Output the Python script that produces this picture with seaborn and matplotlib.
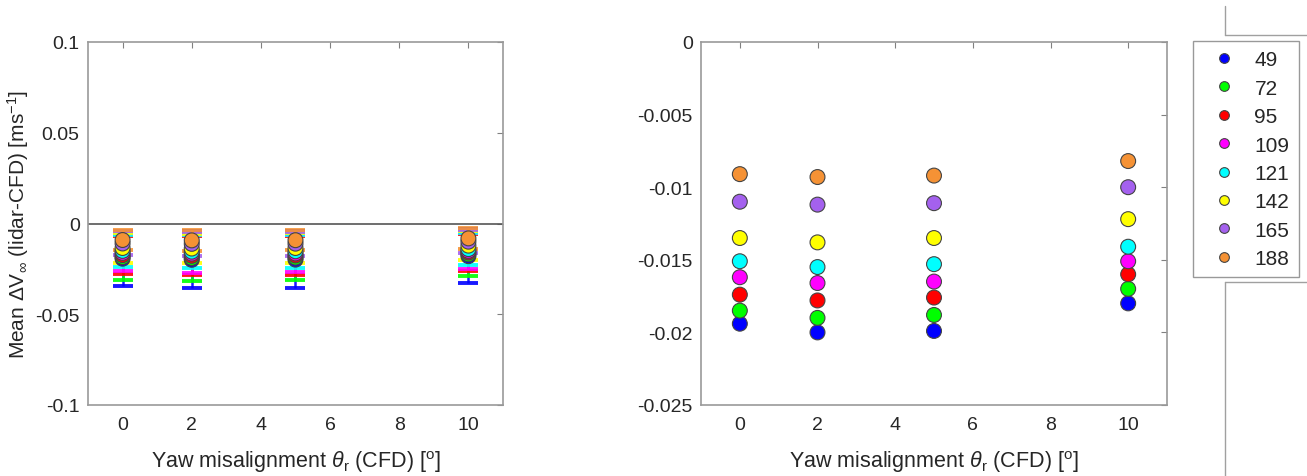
import numpy as np
import pandas as pd
import seaborn as sns
import matplotlib.pyplot as plt
from matplotlib.lines import Line2D

# yaw misalignment (CFD) and series labels
yaw = [0, 2, 5, 10]
series = ['49', '72', '95', '109', '121', '142', '165', '188']
colors = ['#0000ff', '#00ff00', '#ff0000', '#ff00ff', '#00ffff', '#ffff00', '#a461ee', '#f59235']

# mean delta V per series, one value per yaw angle
mean_49 = [-0.0194, -0.0200, -0.0199, -0.0180]
mean_72 = [-0.0185, -0.0190, -0.0188, -0.0170]
mean_95 = [-0.0174, -0.0178, -0.0176, -0.0160]
mean_109 = [-0.0162, -0.0166, -0.0165, -0.0151]
mean_121 = [-0.0151, -0.0155, -0.0153, -0.0141]
mean_142 = [-0.0135, -0.0138, -0.0135, -0.0122]
mean_165 = [-0.0110, -0.0112, -0.0111, -0.0100]
mean_188 = [-0.0091, -0.0093, -0.0092, -0.0082]

# error bar half widths
err_49 = [0.0152, 0.0158, 0.0157, 0.0150]
err_72 = [0.0124, 0.0127, 0.0126, 0.0120]
err_95 = [0.0106, 0.0108, 0.0107, 0.0102]
err_109 = [0.0102, 0.0104, 0.0103, 0.0100]
err_121 = [0.0090, 0.0092, 0.0091, 0.0088]
err_142 = [0.0080, 0.0081, 0.0080, 0.0078]
err_165 = [0.0066, 0.0067, 0.0066, 0.0064]
err_188 = [0.0056, 0.0057, 0.0056, 0.0056]

means = [mean_49, mean_72, mean_95, mean_109, mean_121, mean_142, mean_165, mean_188]
errs = [err_49, err_72, err_95, err_109, err_121, err_142, err_165, err_188]

rows = []
for s, m, e in zip(series, means, errs):
    for x, mv, ev in zip(yaw, m, e):
        rows.append({'yaw': x, 'series': s, 'mean': mv, 'err': ev})
df = pd.DataFrame(rows)

sns.set_style('white')
plt.rcParams['font.family'] = ['Liberation Sans', 'DejaVu Sans']
plt.rcParams['mathtext.fontset'] = 'custom'
plt.rcParams['mathtext.rm'] = 'Liberation Sans'
plt.rcParams['mathtext.it'] = 'Liberation Sans:italic'
plt.rcParams['mathtext.bf'] = 'Liberation Sans:bold'

W, H = 1307, 477
fig = plt.figure(figsize=(W / 100, H / 100), dpi=100)
ax1 = fig.add_axes([88 / W, 71 / H, 415 / W, 363 / H])
ax2 = fig.add_axes([701 / W, 71 / H, 466 / W, 363 / H])

palette = dict(zip(series, colors))

# left: means with error bars
for s in series:
    d = df[df['series'] == s]
    ax1.errorbar(d['yaw'], d['mean'], yerr=d['err'], fmt='none', ecolor=palette[s],
                 elinewidth=1.8, capsize=7.5, capthick=2.8, alpha=0.9)
sns.scatterplot(data=df, x='yaw', y='mean', hue='series', palette=palette, ax=ax1,
                s=115, edgecolor='#444444', linewidth=0.8, legend=False, zorder=3)
ax1.axhline(0, color='#555555', lw=1.2, zorder=1)
ax1.set_ylim(-0.1, 0.1)
ax1.set_yticks([-0.1, -0.05, 0, 0.05, 0.1])
ax1.set_yticklabels(['-0.1', '-0.05', '0', '0.05', '0.1'])

# right: means only
sns.scatterplot(data=df, x='yaw', y='mean', hue='series', palette=palette, ax=ax2,
                s=115, edgecolor='#444444', linewidth=0.8, legend=False, zorder=3)
ax2.set_ylim(-0.025, 0)
ax2.set_yticks([-0.025, -0.02, -0.015, -0.01, -0.005, 0])
ax2.set_yticklabels(['-0.025', '-0.02', '-0.015', '-0.01', '-0.005', '0'])
ax2.set_ylabel('')

xlab = r'Yaw misalignment $\theta_\mathrm{r}$ (CFD) [$^\mathrm{o}$]'
for ax in (ax1, ax2):
    ax.set_xlim(-1, 11)
    ax.set_xticks([0, 2, 4, 6, 8, 10])
    ax.set_xlabel(xlab, fontsize=15.5, color='#262626', labelpad=11)
    ax.tick_params(direction='in', length=4, width=0.8, color='#808080',
                   top=True, right=True, labelsize=14, labelcolor='#262626', pad=8)
    ax.tick_params(axis='y', pad=6)
    for sp in ax.spines.values():
        sp.set_color('#9a9a9a')
        sp.set_linewidth(1.2)
ax1.set_ylabel(r'Mean $\Delta$V$_\infty$ (lidar-CFD) [ms$^{-1}$]', fontsize=15,
               color='#262626')
ax1.yaxis.set_label_coords((31 - 88) / 415, 0.5)

# legend
handles = [Line2D([], [], ls='none', marker='o', markersize=7, markerfacecolor=c,
                  markeredgecolor='#444444', markeredgewidth=0.8) for c in colors]
leg = fig.legend(handles, series, loc='upper left',
                 bbox_to_anchor=(1193 / W, 1 - 42 / H), fontsize=15,
                 frameon=True, fancybox=False, edgecolor='#808080',
                 borderaxespad=0, handletextpad=0.4, labelspacing=0.45,
                 borderpad=0.45, handlelength=2.1)
leg.get_frame().set_linewidth(1.0)

# stray frame lines on the right edge
fig.add_artist(Line2D([1225 / W, 1225 / W], [1 - 7 / H, 1 - 36 / H], color='#a0a0a0', lw=1))
fig.add_artist(Line2D([1225 / W, 1], [1 - 36 / H, 1 - 36 / H], color='#a0a0a0', lw=1))
fig.add_artist(Line2D([1225 / W, 1], [1 - 283 / H, 1 - 283 / H], color='#a0a0a0', lw=1))
fig.add_artist(Line2D([1225 / W, 1225 / W], [1 - 283 / H, 0], color='#a0a0a0', lw=1))

fig.savefig('out.png', dpi=100)
